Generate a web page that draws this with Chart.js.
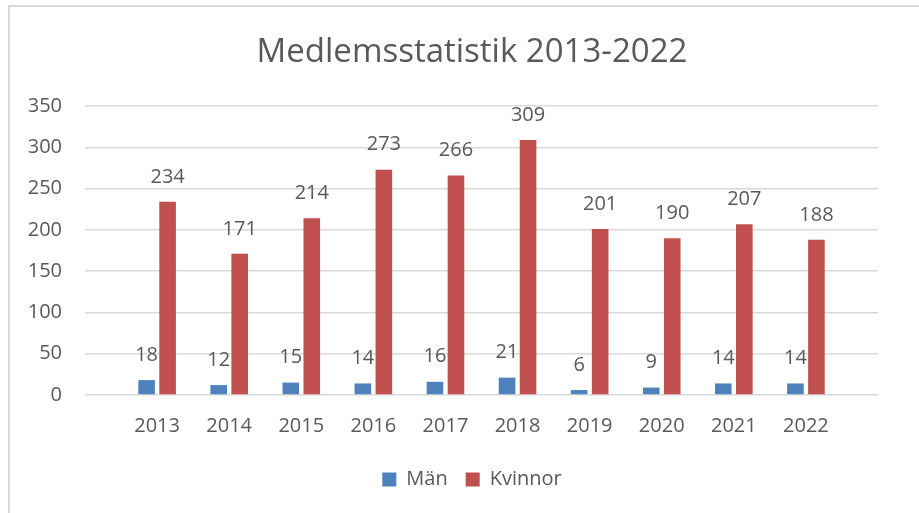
<!DOCTYPE html>
<html><head><meta charset="utf-8">
<script src="https://cdn.jsdelivr.net/npm/chart.js@4"></script>
<style>
html,body{margin:0;padding:0;background:#fff;overflow:hidden;width:919px;height:513px}
#frame{position:absolute;left:8px;top:5px;width:1000px;height:600px;border:2px solid #d9d9d9;box-sizing:border-box}
#wrap{position:absolute;left:0;top:0;width:944px;height:513px}
</style></head><body>
<div id="frame"></div>
<div id="wrap"><canvas id="c" width="944" height="513"></canvas></div>
<script>
const years = [2013, 2014, 2015, 2016, 2017, 2018, 2019, 2020, 2021, 2022];
const men = [18, 12, 15, 14, 16, 21, 6, 9, 14, 14];
const women = [234, 171, 214, 273, 266, 309, 201, 190, 207, 188];
const yTicks = [0, 50, 100, 150, 200, 250, 300, 350];
const titleText = 'Medlemsstatistik 2013-2022';
const seriesNames = ['Män', 'Kvinnor'];

const TEXT = '#595959';
const FONT = 'Open Sans';

const valueLabels = {
  id: 'valueLabels',
  afterDatasetsDraw(chart) {
    const ctx = chart.ctx;
    ctx.save();
    ctx.font = '20px "' + FONT + '"';
    ctx.fillStyle = TEXT;
    ctx.textAlign = 'center';
    ctx.textBaseline = 'middle';
    chart.data.datasets.forEach((ds, di) => {
      const meta = chart.getDatasetMeta(di);
      meta.data.forEach((el, i) => {
        ctx.fillText(String(ds.data[i].y), el.x, el.y - 25);
      });
    });
    ctx.restore();
  }
};

new Chart(document.getElementById('c'), {
  type: 'bar',
  data: {
    datasets: [
      { label: seriesNames[0], data: years.map((y, i) => ({ x: y, y: men[i] })), backgroundColor: '#4F81BD' },
      { label: seriesNames[1], data: years.map((y, i) => ({ x: y, y: women[i] })), backgroundColor: '#C0504D' }
    ]
  },
  options: {
    responsive: false,
    animation: false,
    categoryPercentage: 0.583,
    barPercentage: 0.79,
    layout: { padding: { left: 0, right: 0, top: 0, bottom: 13.5 } },
    plugins: {
      title: {
        display: true, text: titleText, color: TEXT,
        font: { family: FONT, size: 33, weight: 'normal' },
        padding: { top: 33, bottom: 33.5 }
      },
      legend: {
        position: 'bottom',
        labels: { boxWidth: 14, boxHeight: 14, color: TEXT, font: { family: FONT, size: 20 }, padding: 18 }
      },
      tooltip: { enabled: false }
    },
    scales: {
      x: {
        type: 'linear', min: 2012, max: 2023, offset: false,
        grid: { display: false, drawTicks: false, offset: false },
        border: { display: false },
        afterBuildTicks: s => { s.ticks = years.map(v => ({ value: v })); },
        afterFit: s => { s.height = s.height - 5.5; },
        ticks: { callback: v => String(v), color: TEXT, font: { family: FONT, size: 20 }, padding: 19, maxRotation: 0, autoSkip: false }
      },
      y: {
        min: 0, max: 350,
        afterBuildTicks: s => { s.ticks = yTicks.map(v => ({ value: v })); },
        grid: { color: '#d9d9d9', lineWidth: 1.5, drawTicks: false },
        border: { display: false },
        ticks: { color: TEXT, font: { family: FONT, size: 20 }, padding: 23 },
        afterFit: s => { s.width = 85; }
      },
      yRight: {
        position: 'right',
        grid: { display: false, drawTicks: false },
        border: { display: false },
        ticks: { display: false },
        afterFit: s => { s.width = 66; }
      }
    }
  },
  plugins: [valueLabels]
});
</script>
</body></html>
